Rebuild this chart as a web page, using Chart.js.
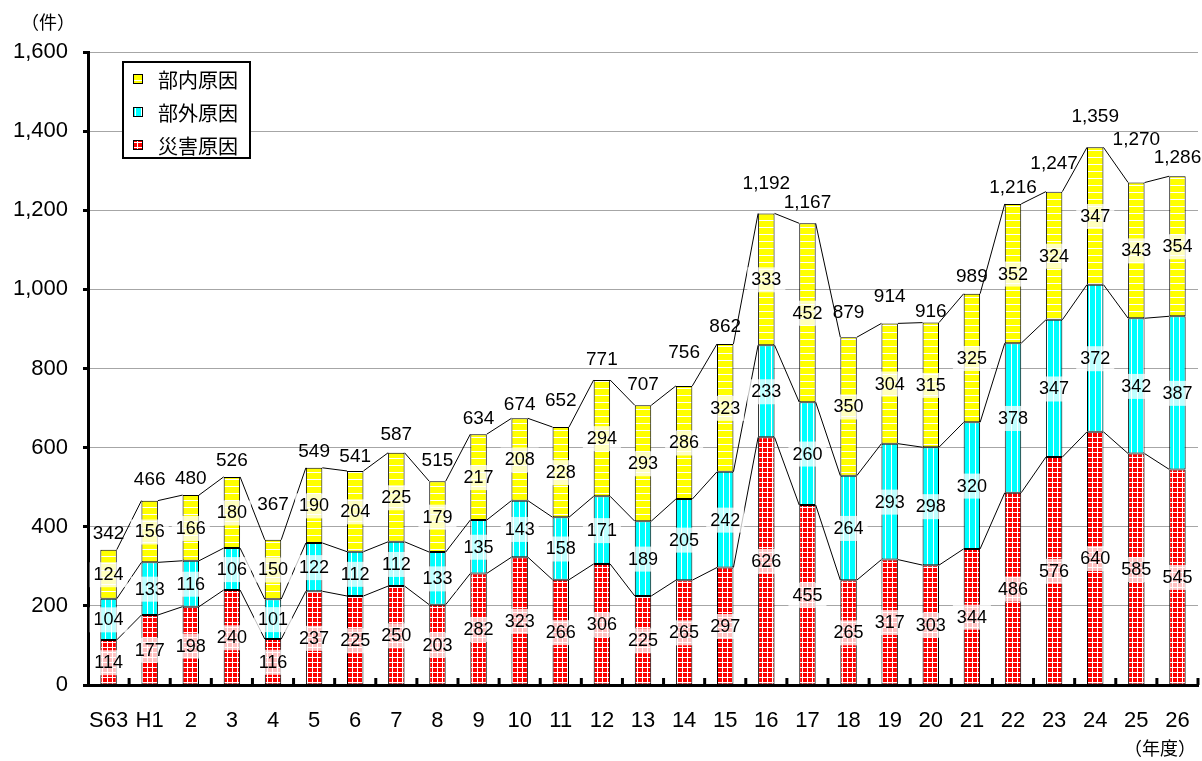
<!DOCTYPE html>
<html>
<head>
<meta charset="utf-8">
<script src="https://cdn.jsdelivr.net/npm/chart.js@4"></script>
<style>
  body { margin: 0; background: #fff; }
  canvas { display: block; }
</style>
</head>
<body>
<canvas id="chart" width="1202" height="761"></canvas>
<script>
// ── DATA ──────────────────────────────────────────────────────────────────────
var years = ['S63', 'H1', '2', '3', '4', '5', '6', '7', '8', '9', '10', '11', '12', '13',
  '14', '15', '16', '17', '18', '19', '20', '21', '22', '23', '24', '25', '26'];

var disaster = [114, 177, 198, 240, 116, 237, 225, 250, 203, 282, 323, 266, 306, 225,
  265, 297, 626, 455, 265, 317, 303, 344, 486, 576, 640, 585, 545];
var external = [104, 133, 116, 106, 101, 122, 112, 112, 133, 135, 143, 158, 171, 189,
  205, 242, 233, 260, 264, 293, 298, 320, 378, 347, 372, 342, 387];
var internal = [124, 156, 166, 180, 150, 190, 204, 225, 179, 217, 208, 228, 294, 293,
  286, 323, 333, 452, 350, 304, 315, 325, 352, 324, 347, 343, 354];

var yTicks = [0, 200, 400, 600, 800, 1000, 1200, 1400, 1600];

// how far (px) each total label sits above its bar, as placed in the original
var totalLabelLift = [16, 21, 16, 16, 35, 16, 14, 18, 20, 15, 14, 26, 20, 21,
  33, 17, 30, 21, 24, 27, 11, 17, 16, 28, 31, 43, 18];

var NUM_FONT = "'Liberation Sans', Arial, sans-serif";
var JP_FONT = "'Noto Sans CJK JP', 'Liberation Sans', sans-serif";

// ── PATTERNS ──────────────────────────────────────────────────────────────────
function makePattern(size, base, drawLines) {
  var c = document.createElement('canvas');
  c.width = size; c.height = size;
  var g = c.getContext('2d');
  g.fillStyle = base;
  g.fillRect(0, 0, size, size);
  g.fillStyle = '#ffffff';
  drawLines(g, size);
  return g.createPattern(c, 'repeat');
}

var ctx = document.getElementById('chart').getContext('2d');

var redPat = makePattern(5, '#ff0000', function(g, s) {
  g.fillRect(2, 0, 1, s);
  g.fillRect(0, 2, s, 1);
});
var cyanPat = makePattern(6, '#00ffff', function(g, s) {
  g.fillRect(3, 0, 1, s);
});
var yellowPat = makePattern(7, '#ffff00', function(g, s) {
  g.fillRect(0, 3, s, 1);
});

// ── LINES, LABELS, LEGEND ─────────────────────────────────────────────────────
var decorPlugin = {
  id: 'decor',
  afterDatasetsDraw: function(chart) {
    var c = chart.ctx;
    var area = chart.chartArea;
    var metas = [0, 1, 2].map(function(d) { return chart.getDatasetMeta(d); });

    // inner tick marks on the x axis, between categories
    var xs = chart.scales.x;
    c.save();
    c.fillStyle = '#000';
    for (var i = 1; i < years.length; i++) {
      var bx = (xs.getPixelForValue(i - 1) + xs.getPixelForValue(i)) / 2;
      c.fillRect(bx - 1.5, area.bottom - 7, 3, 7);
    }
    c.fillRect(area.right - 1.5, area.bottom - 7, 3, 7);
    c.restore();

    // series lines joining the top of each stack level
    c.save();
    c.strokeStyle = '#000';
    c.lineWidth = 1;
    metas.forEach(function(meta) {
      for (var i = 0; i < meta.data.length - 1; i++) {
        var a = meta.data[i], b = meta.data[i + 1];
        c.beginPath();
        c.moveTo(a.x + a.width / 2, a.y);
        c.lineTo(b.x - b.width / 2, b.y);
        c.stroke();
      }
    });
    c.restore();

    // segment value labels with translucent white boxes
    c.save();
    c.font = '18px ' + NUM_FONT;
    c.textAlign = 'center';
    c.textBaseline = 'middle';
    var values = [disaster, external, internal];
    metas.forEach(function(meta, d) {
      meta.data.forEach(function(el, i) {
        var txt = String(values[d][i]);
        var cy = (el.y + el.base) / 2;
        var w = c.measureText(txt).width + 8;
        c.fillStyle = 'rgba(255,255,255,0.75)';
        c.fillRect(el.x - w / 2, cy - 12, w, 25);
        c.fillStyle = '#000';
        c.fillText(txt, el.x, cy + 1);
      });
    });

    // totals above each bar
    c.font = '19px ' + NUM_FONT;
    metas[2].data.forEach(function(el, i) {
      var total = disaster[i] + external[i] + internal[i];
      c.fillStyle = '#000';
      c.fillText(total.toLocaleString('en-US'), el.x, el.y - totalLabelLift[i]);
    });
    c.restore();
  },
  afterDraw: function(chart) {
    var c = chart.ctx;
    c.save();
    c.fillStyle = '#000';
    c.textBaseline = 'middle';
    c.textAlign = 'center';
    c.font = '18px ' + JP_FONT;
    c.fillText('（件）', 48, 22);
    c.fillText('（年度）', 1160, 748);

    // legend box
    c.fillStyle = '#fff';
    c.fillRect(123, 62, 127, 96);
    c.strokeStyle = '#000';
    c.lineWidth = 2;
    c.strokeRect(123, 62, 127, 96);

    var items = [
      { label: '部内原因', pat: yellowPat },
      { label: '部外原因', pat: cyanPat },
      { label: '災害原因', pat: redPat }
    ];
    c.textAlign = 'left';
    c.font = '20px ' + JP_FONT;
    items.forEach(function(it, k) {
      var y = 79 + k * 33;
      c.fillStyle = it.pat;
      c.fillRect(133, y - 5, 10, 10);
      c.strokeStyle = '#000';
      c.lineWidth = 1;
      c.strokeRect(133.5, y - 4.5, 9, 9);
      c.fillStyle = '#000';
      c.fillText(it.label, 158, y + 1);
    });
    c.restore();
  }
};

// ── CHART ─────────────────────────────────────────────────────────────────────
function barSet(label, data, pat) {
  return {
    label: label,
    data: data,
    backgroundColor: pat,
    borderColor: '#000',
    borderWidth: 1,
    borderSkipped: false,
    barPercentage: 0.4,
    categoryPercentage: 1.0
  };
}

new Chart(ctx, {
  type: 'bar',
  data: {
    labels: years,
    datasets: [
      barSet('災害原因', disaster, redPat),
      barSet('部外原因', external, cyanPat),
      barSet('部内原因', internal, yellowPat)
    ]
  },
  options: {
    responsive: false,
    animation: false,
    layout: { padding: { top: 52, right: 4, bottom: 0, left: 0 } },
    plugins: {
      legend: { display: false },
      tooltip: { enabled: false }
    },
    scales: {
      x: {
        stacked: true,
        afterFit: function(scale) {
          scale.height = 76;
          scale.paddingLeft = 0;
          scale.paddingRight = 0;
        },
        grid: { display: true, drawOnChartArea: false, drawTicks: false },
        border: { color: '#000', width: 3 },
        ticks: {
          color: '#000',
          padding: 23,
          autoSkip: false,
          maxRotation: 0,
          minRotation: 0,
          font: { family: NUM_FONT, size: 22 }
        }
      },
      y: {
        stacked: true,
        min: 0,
        max: 1600,
        afterFit: function(scale) { scale.width = 88; },
        afterBuildTicks: function(scale) {
          scale.ticks = yTicks.map(function(v) { return { value: v }; });
        },
        grid: {
          color: '#a6a6a6',
          lineWidth: 1,
          tickColor: '#000',
          tickWidth: 3,
          tickLength: 5
        },
        border: { color: '#000', width: 3 },
        ticks: {
          color: '#000',
          padding: 15,
          font: { family: NUM_FONT, size: 22 },
          callback: function(v) { return v.toLocaleString('en-US'); }
        }
      }
    }
  },
  plugins: [decorPlugin]
});
</script>
</body>
</html>
